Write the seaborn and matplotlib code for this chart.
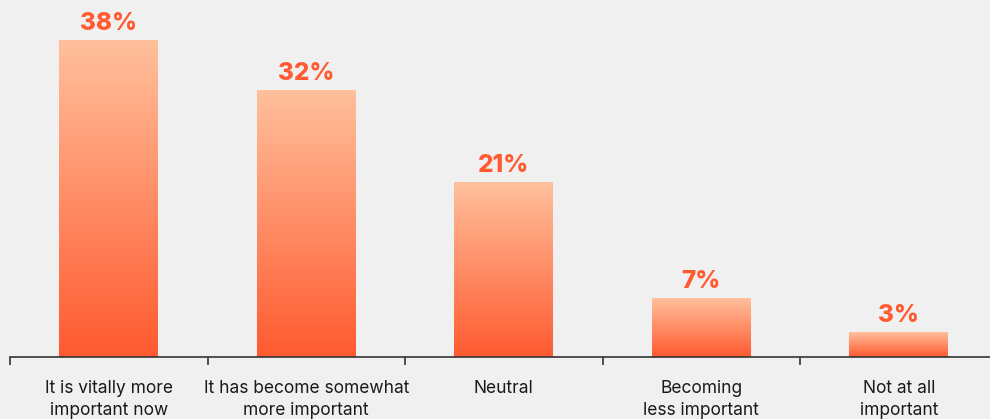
import matplotlib
matplotlib.use("Agg")
import matplotlib.pyplot as plt
import seaborn as sns
import numpy as np
import pandas as pd
from matplotlib.colors import LinearSegmentedColormap

# chart data
aCategories = ["It is vitally more\nimportant now",
               "It has become somewhat\nmore important",
               "Neutral",
               "Becoming\nless important",
               "Not at all\nimportant"]
aValues = [38, 32, 21, 7, 3]

sns.set_style("white")
plt.rcParams["font.family"] = ["Inter", "DejaVu Sans"]

oData = pd.DataFrame({"category": aCategories, "value": aValues})

sBg = "#F0F0F0"
oFig = plt.figure(figsize=(9.9, 4.19), dpi=100, facecolor=sBg)
oAx = oFig.add_axes([10 / 990, 62 / 419, 987.5 / 990, 333 / 419])
oAx.set_facecolor(sBg)

oPlot = sns.barplot(data=oData, x="category", y="value", width=0.5,
                    color="#FF5C33", ax=oAx)

# gradient fill for each bar (light top -> strong orange bottom)
oCmap = LinearSegmentedColormap.from_list("grad", ["#FF5A30", "#FFC09C"])
aGrad = np.linspace(0, 1, 256).reshape(-1, 1)
for oBar in oPlot.patches:
    fX, fY = oBar.get_x(), oBar.get_y()
    fW, fH = oBar.get_width(), oBar.get_height()
    oBar.set_alpha(0)
    oAx.imshow(aGrad, cmap=oCmap, origin="lower", aspect="auto",
               extent=[fX, fX + fW, fY, fY + fH], zorder=2)
    oAx.text(fX + fW / 2, fY + fH + 0.65, f"{int(round(fH))}%",
             ha="center", va="bottom", color="#FF5A30", fontsize=17.5,
             fontweight=800, clip_on=False)

oAx.set_xlim(-0.5, 4.5)
oAx.set_ylim(0, 40)
oAx.set_xlabel("")
oAx.set_ylabel("")
oAx.set_yticks([])
oAx.set_xticks(np.arange(-0.5, 4.5, 1.0))
oAx.set_xticks(np.arange(5), minor=True)
oAx.set_xticklabels([])
oAx.set_xticklabels(aCategories, minor=True, fontsize=12.5, color="#1A1A1A",
                    linespacing=1.4)
oAx.tick_params(axis="x", which="major", bottom=True, direction="out",
                length=6, width=1.2, color="#333333")
oAx.tick_params(axis="x", which="minor", bottom=True, length=0, pad=16.5)
for sSide in ["top", "right", "left"]:
    oAx.spines[sSide].set_visible(False)
oAx.spines["bottom"].set_color("#333333")
oAx.spines["bottom"].set_linewidth(1.2)

oFig.savefig("out.png", dpi=100, facecolor=sBg)
